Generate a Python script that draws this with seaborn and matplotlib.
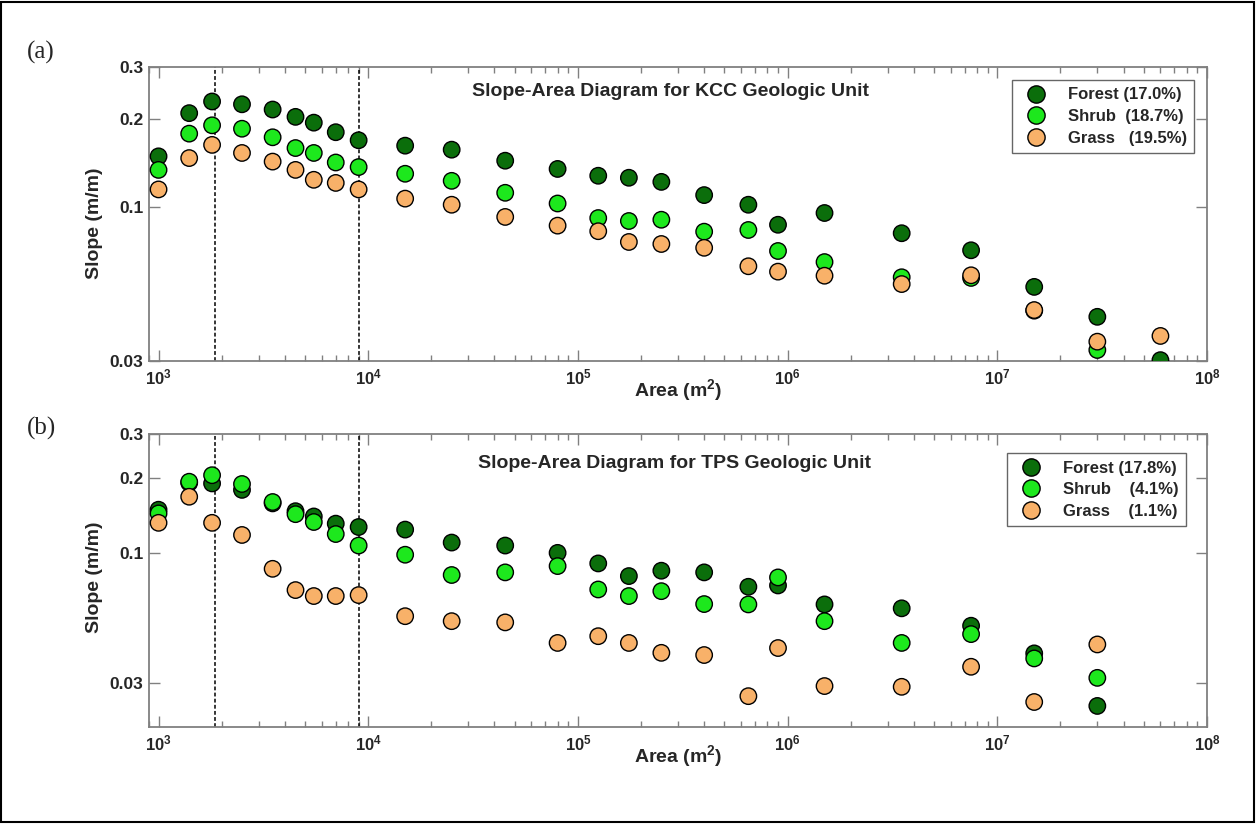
import numpy as np
import pandas as pd
import matplotlib
matplotlib.use("Agg")
import matplotlib.pyplot as plt
import matplotlib.ticker as mticker
from matplotlib.patches import Rectangle
import seaborn as sns

# drainage area bins (m^2)
area_kcc = [1000, 1400, 1800, 2500, 3500, 4500, 5500, 7000, 9000, 15000, 25000, 45000,
            80000, 125000, 175000, 250000, 400000, 650000, 900000, 1.5e6, 3.5e6, 7.5e6,
            1.5e7, 3e7, 6e7]
forest_kcc = [0.149, 0.209, 0.229, 0.224, 0.215, 0.203, 0.194, 0.180, 0.169, 0.162, 0.157, 0.144,
              0.135, 0.128, 0.126, 0.122, 0.110, 0.102, 0.0872, 0.0956, 0.0816, 0.0714,
              0.0536, 0.0424, 0.0302]
shrub_kcc = [0.134, 0.178, 0.190, 0.185, 0.173, 0.159, 0.153, 0.142, 0.137, 0.130, 0.123, 0.112,
             0.103, 0.0919, 0.0898, 0.0907, 0.0826, 0.0837, 0.0710, 0.0651, 0.0578, 0.0575,
             0.0445, 0.0327, np.nan]
grass_kcc = [0.115, 0.147, 0.163, 0.153, 0.143, 0.134, 0.124, 0.121, 0.115, 0.107, 0.102, 0.0927,
             0.0866, 0.0829, 0.0762, 0.0750, 0.0728, 0.0630, 0.0604, 0.0585, 0.0548, 0.0587,
             0.0447, 0.0349, 0.0365]

area_tps = [1000, 1400, 1800, 2500, 3500, 4500, 5500, 7000, 9000, 15000, 25000, 45000,
            80000, 125000, 175000, 250000, 400000, 650000, 900000, 1.5e6, 3.5e6, 7.5e6,
            1.5e7, 3e7]
forest_tps = [0.149, 0.191, 0.190, 0.179, 0.158, 0.147, 0.140, 0.131, 0.127, 0.124, 0.110, 0.107,
              0.100, 0.0907, 0.0807, 0.0848, 0.0835, 0.0731, 0.0740, 0.0621, 0.0599, 0.0510,
              0.0395, 0.0243]
shrub_tps = [0.144, 0.193, 0.205, 0.189, 0.160, 0.143, 0.133, 0.119, 0.107, 0.0983, 0.0815, 0.0835,
             0.0885, 0.0713, 0.0671, 0.0702, 0.0623, 0.0621, 0.0797, 0.0532, 0.0435, 0.0472,
             0.0377, 0.0315]
grass_tps = [0.132, 0.168, 0.132, 0.118, 0.0863, 0.0709, 0.0671, 0.0671, 0.0677, 0.0557, 0.0532, 0.0526,
             0.0435, 0.0463, 0.0435, 0.0397, 0.0389, 0.0266, 0.0415, 0.0292, 0.0290, 0.0349,
             0.0252, 0.0429]

labels_kcc = ["Forest (17.0%)", "Shrub  (18.7%)", "Grass   (19.5%)"]
labels_tps = ["Forest (17.8%)", "Shrub    (4.1%)", "Grass    (1.1%)"]
colors = ["#0b6e0b", "#1de81d", "#f8b169"]
breaks = [1850, 9000]

sns.set_style("ticks")
plt.rcParams["font.family"] = ["Liberation Sans", "DejaVu Sans"]
plt.rcParams["font.weight"] = "bold"
plt.rcParams["mathtext.fontset"] = "custom"
plt.rcParams["mathtext.rm"] = "Liberation Sans:bold"
plt.rcParams["mathtext.bf"] = "Liberation Sans:bold"
plt.rcParams["mathtext.default"] = "bf"


def make_df(area, series, labels):
    frames = []
    for vals, lab in zip(series, labels):
        frames.append(pd.DataFrame({"area": area, "slope": vals, "cover": lab}))
    return pd.concat(frames, ignore_index=True).dropna()


def draw_panel(ax, df, labels, title, ylow, title_xy, leg_anchor, ylab_y):
    sns.scatterplot(data=df, x="area", y="slope", hue="cover", hue_order=labels,
                    palette=colors, s=140, edgecolor="black", linewidth=1.0,
                    ax=ax, zorder=3)
    for b in breaks:
        ax.axvline(b, color="black", ls=(0, (2.5, 1.5)), lw=1.1, zorder=2)
    ax.set_xscale("log")
    ax.set_yscale("log")
    ax.set_xlim(900, 1e8)
    ax.set_ylim(ylow, 0.3)
    ax.xaxis.set_major_locator(mticker.LogLocator(base=10, numticks=10))
    ax.xaxis.set_minor_locator(mticker.LogLocator(base=10, subs=np.arange(2, 10), numticks=100))
    ax.xaxis.set_major_formatter(mticker.LogFormatterMathtext())
    ax.xaxis.set_minor_formatter(mticker.NullFormatter())
    ax.set_yticks([0.03, 0.1, 0.2, 0.3])
    ax.set_yticklabels(["0.03", "0.1", "0.2", "0.3"])
    ax.yaxis.set_minor_locator(mticker.NullLocator())
    ax.tick_params(axis="both", which="both", direction="in", top=True, right=True,
                   color="#808080")
    ax.tick_params(axis="x", which="major", length=8, width=1, pad=5, labelsize=12)
    ax.tick_params(axis="x", which="minor", length=4.5, width=1)
    ax.tick_params(axis="y", which="major", length=8, width=1, pad=4, labelsize=12.5)
    for sp in ax.spines.values():
        sp.set_visible(True)
        sp.set_color("#808080")
        sp.set_linewidth(1.3)
    ax.set_xlabel("Area (m$^2$)", fontsize=14, fontweight="bold")
    ax.set_ylabel("Slope (m/m)", fontsize=14, fontweight="bold")
    ax.xaxis.set_label_coords(0.5, -0.055)
    ax.yaxis.set_label_coords(-0.043, ylab_y)
    ax.text(title_xy[0], title_xy[1], title, transform=ax.transAxes, ha="center",
            va="center", fontsize=14, fontweight="bold")
    sns.move_legend(ax, "upper right", bbox_to_anchor=leg_anchor, title=None,
                    frameon=True, fancybox=False, edgecolor="#404040", fontsize=12,
                    markerscale=1.05, handletextpad=0.9, borderpad=0.45,
                    labelspacing=0.4, borderaxespad=0)
    ax.get_legend().get_frame().set_linewidth(1.0)


fig = plt.figure(figsize=(12.57, 8.24), dpi=100)
ax_a = fig.add_axes([0.1185, 0.5619, 0.8417, 0.3568])
ax_b = fig.add_axes([0.1185, 0.1177, 0.8417, 0.3556])

df_kcc = make_df(area_kcc, [forest_kcc, shrub_kcc, grass_kcc], labels_kcc)
df_tps = make_df(area_tps, [forest_tps, shrub_tps, grass_tps], labels_tps)

draw_panel(ax_a, df_kcc, labels_kcc, "Slope-Area Diagram for KCC Geologic Unit", 0.03,
           (0.493, 0.918), (0.988, 0.956), 0.47)
draw_panel(ax_b, df_tps, labels_tps, "Slope-Area Diagram for TPS Geologic Unit", 0.02,
           (0.497, 0.90), (0.980, 0.935), 0.51)

fig.text(0.021, 1 - 52 / 824, "(a)", family="Liberation Serif", fontweight="normal",
         fontsize=18, va="center")
fig.text(0.021, 1 - 428 / 824, "(b)", family="Liberation Serif", fontweight="normal",
         fontsize=18, va="center")
fig.patches.append(Rectangle((0.001, 0.002), 0.997, 0.996, transform=fig.transFigure,
                             fill=False, edgecolor="black", lw=1.5))

fig.savefig("out.png", dpi=100, facecolor="white")
